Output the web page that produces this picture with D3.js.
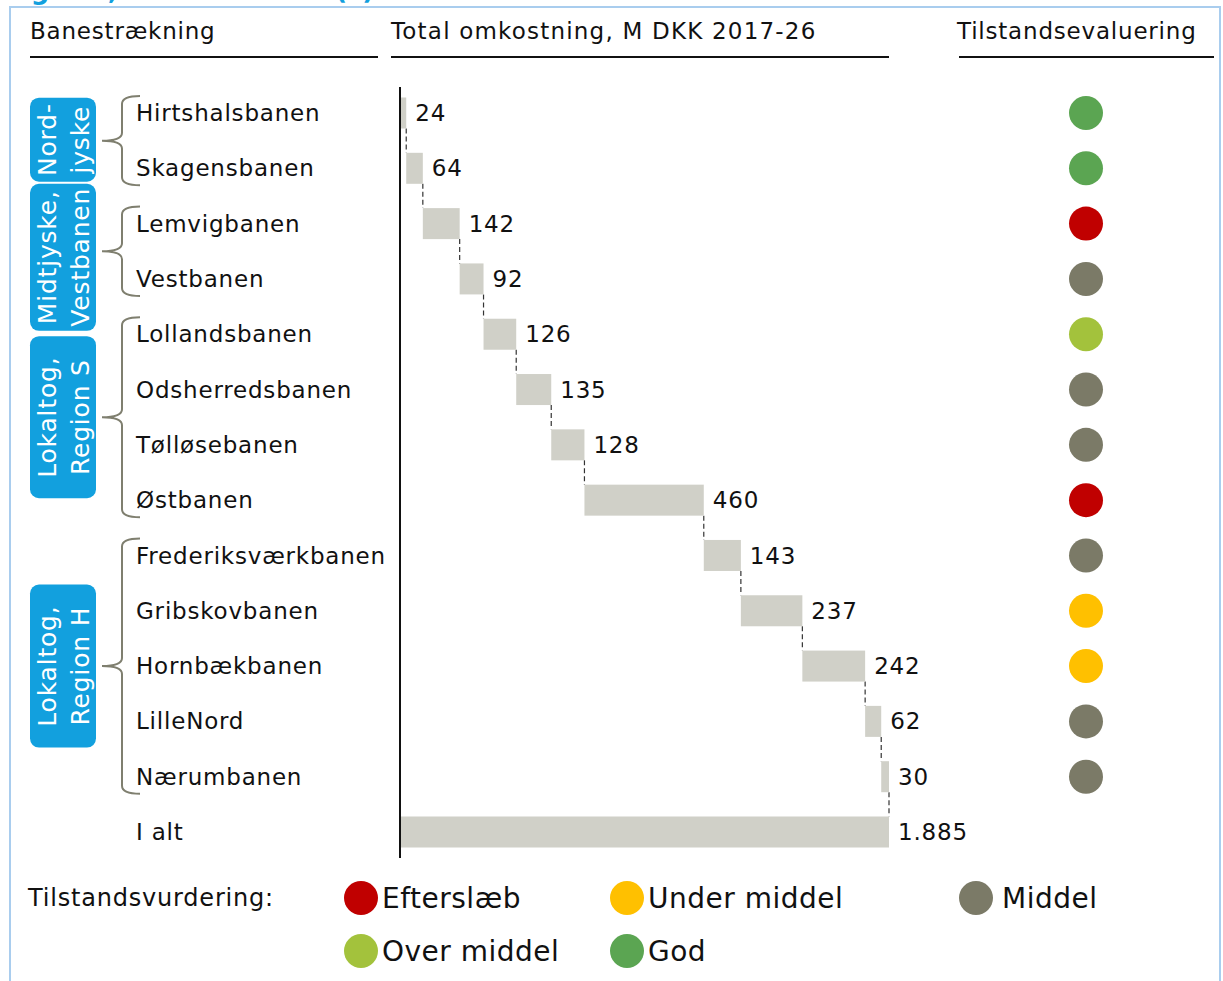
<!DOCTYPE html>
<html>
<head>
<meta charset="utf-8">
<script src="https://cdn.jsdelivr.net/npm/d3@7"></script>
<style>
  body { margin: 0; background: #fff; }
  svg { display: block; font-family: "DejaVu Sans", Verdana, sans-serif; }
</style>
</head>
<body>
<div id="chart"></div>
<script>
// Data
const lines = ["Hirtshalsbanen", "Skagensbanen", "Lemvigbanen", "Vestbanen",
    "Lollandsbanen", "Odsherredsbanen", "Tølløsebanen", "Østbanen",
    "Frederiksværkbanen", "Gribskovbanen", "Hornbækbanen", "LilleNord", "Nærumbanen"];
const costs = [24, 64, 142, 92, 126, 135, 128, 460, 143, 237, 242, 62, 30];
const totalLabel = "I alt";
const status = ["God", "God", "Efterslæb", "Middel", "Over middel", "Middel", "Middel",
    "Efterslæb", "Middel", "Under middel", "Under middel", "Middel", "Middel"];
const groupNames = [["Nord-", "jyske"], ["Midtjyske,", "Vestbanen"], ["Lokaltog,", "Region S"], ["Lokaltog,", "Region H"]];
const groupFirst = [0, 2, 4, 8];
const groupLast = [1, 3, 7, 12];
const legendOrder = ["Efterslæb", "Under middel", "Middel", "Over middel", "God"];
const statusColors = ["#c00000", "#ffc000", "#7b7a67", "#a3c23c", "#5ba552"];
const headers = ["Banestrækning", "Total omkostning, M DKK 2017-26", "Tilstandsevaluering"];

// Layout
const width = 1223, height = 981;
const barH = 31;
const boxH = [84, 147, 162, 163];
const boxShift = [-1, 6, 0, 0];
const fontSize = "23px", spacing = "0.8px";

const svg = d3.select("#chart").append("svg")
    .attr("width", width)
    .attr("height", height);

// Frame and cut-off title
svg.append("rect")
    .attr("x", 10).attr("y", 7)
    .attr("width", 1210).attr("height", 1000)
    .attr("fill", "none")
    .attr("stroke", "#a9cdee")
    .attr("stroke-width", 2);

svg.append("text")
    .attr("x", 4).attr("y", -1)
    .attr("fill", "#12a0de")
    .style("font-size", "26px")
    .style("font-weight", "bold")
    .text("Figur 3, Lokalbanerne (?)");

// Column headers with underlines
const headerX = [30, 391, 957];
const ruleX = [[30, 378], [391, 889], [959, 1214]];
headers.forEach((h, i) => {
    svg.append("text")
        .attr("x", headerX[i]).attr("y", 39)
        .style("font-size", fontSize)
        .style("letter-spacing", i === 1 ? "1.2px" : spacing)
        .attr("fill", "#111")
        .text(h);
    svg.append("line")
        .attr("x1", ruleX[i][0]).attr("x2", ruleX[i][1])
        .attr("y1", 57).attr("y2", 57)
        .attr("stroke", "#111")
        .attr("stroke-width", 2);
});

// Scales
const rows = lines.concat([totalLabel]);
const total = d3.sum(costs);
const y = d3.scalePoint().domain(rows).range([113, 832]);
const x = d3.scaleLinear().domain([0, total]).range([400, 889]);
const color = d3.scaleOrdinal().domain(legendOrder).range(statusColors);

// Waterfall data
const starts = costs.map((c, i) => d3.sum(costs.slice(0, i)));
const bars = costs.map((c, i) => ({ name: lines[i], start: starts[i], end: starts[i] + c, value: c }));
bars.push({ name: totalLabel, start: 0, end: total, value: total });

// Connectors
svg.append("g").selectAll("line")
    .data(bars.slice(0, -1))
    .join("line")
    .attr("x1", d => x(d.end)).attr("x2", d => x(d.end))
    .attr("y1", d => y(d.name) + barH / 2)
    .attr("y2", (d, i) => y(bars[i + 1].name) - barH / 2)
    .attr("stroke", "#333")
    .attr("stroke-width", 1.2)
    .attr("stroke-dasharray", "5,3");

// Bars
svg.append("g").selectAll("rect")
    .data(bars)
    .join("rect")
    .attr("x", d => x(d.start))
    .attr("y", d => y(d.name) - barH / 2)
    .attr("width", d => x(d.end) - x(d.start))
    .attr("height", barH)
    .attr("fill", "#d0d0c8");

// Value labels
const fmt = d3.formatLocale({ decimal: ",", thousands: ".", grouping: [3], currency: ["", ""] }).format(",d");
svg.append("g").selectAll("text")
    .data(bars)
    .join("text")
    .attr("x", d => x(d.end) + 9)
    .attr("y", d => y(d.name))
    .attr("dy", "0.35em")
    .style("font-size", fontSize)
    .style("letter-spacing", spacing)
    .attr("fill", "#111")
    .text(d => fmt(d.value));

// Axis line
svg.append("line")
    .attr("x1", 400).attr("x2", 400)
    .attr("y1", 87).attr("y2", 858)
    .attr("stroke", "#111")
    .attr("stroke-width", 2);

// Row labels
svg.append("g").selectAll("text")
    .data(rows)
    .join("text")
    .attr("x", 136)
    .attr("y", d => y(d))
    .attr("dy", "0.35em")
    .style("font-size", fontSize)
    .style("letter-spacing", spacing)
    .attr("fill", "#111")
    .text(d => d);

// Status circles
svg.append("g").selectAll("circle")
    .data(lines)
    .join("circle")
    .attr("cx", 1086)
    .attr("cy", d => y(d))
    .attr("r", 17)
    .attr("fill", (d, i) => color(status[i]));

// Group boxes and braces
groupNames.forEach((g, i) => {
    const top = y(lines[groupFirst[i]]) - 17;
    const bot = y(lines[groupLast[i]]) + 17;
    const mid = (top + bot) / 2;
    const bx = 122, tip = 102, r = 8;
    const p = d3.path();
    p.moveTo(140, top);
    p.quadraticCurveTo(bx, top, bx, top + r);
    p.lineTo(bx, mid - r);
    p.quadraticCurveTo(bx, mid, tip, mid);
    p.quadraticCurveTo(bx, mid, bx, mid + r);
    p.lineTo(bx, bot - r);
    p.quadraticCurveTo(bx, bot, 140, bot);
    svg.append("path")
        .attr("d", p.toString())
        .attr("fill", "none")
        .attr("stroke", "#7f7f6f")
        .attr("stroke-width", 2);

    const cy = mid + boxShift[i];
    svg.append("rect")
        .attr("x", 30).attr("y", cy - boxH[i] / 2)
        .attr("width", 66).attr("height", boxH[i])
        .attr("rx", 9)
        .attr("fill", "#12a0de");
    g.forEach((t, j) => {
        svg.append("text")
            .attr("transform", `translate(${47 + j * 33},${cy}) rotate(-90)`)
            .attr("text-anchor", "middle")
            .attr("dy", "0.35em")
            .style("font-size", "25px")
            .style("letter-spacing", "0.8px")
            .attr("fill", "#fff")
            .text(t);
    });
});

// Legend
svg.append("text")
    .attr("x", 28).attr("y", 898)
    .attr("dy", "0.35em")
    .style("font-size", "24px")
    .style("letter-spacing", spacing)
    .attr("fill", "#111")
    .text("Tilstandsvurdering:");

const legX = [361, 627, 976, 361, 627];
const legY = [898, 898, 898, 951, 951];
const leg = svg.append("g").selectAll("g")
    .data(legendOrder)
    .join("g")
    .attr("transform", (d, i) => `translate(${legX[i]},${legY[i]})`);
leg.append("circle")
    .attr("r", 17)
    .attr("fill", d => color(d));
leg.append("text")
    .attr("x", d => d === "Middel" ? 26 : 21)
    .attr("dy", "0.35em")
    .style("font-size", "28px")
    .style("letter-spacing", "0.5px")
    .attr("fill", "#111")
    .text(d => d);
</script>
</body>
</html>
